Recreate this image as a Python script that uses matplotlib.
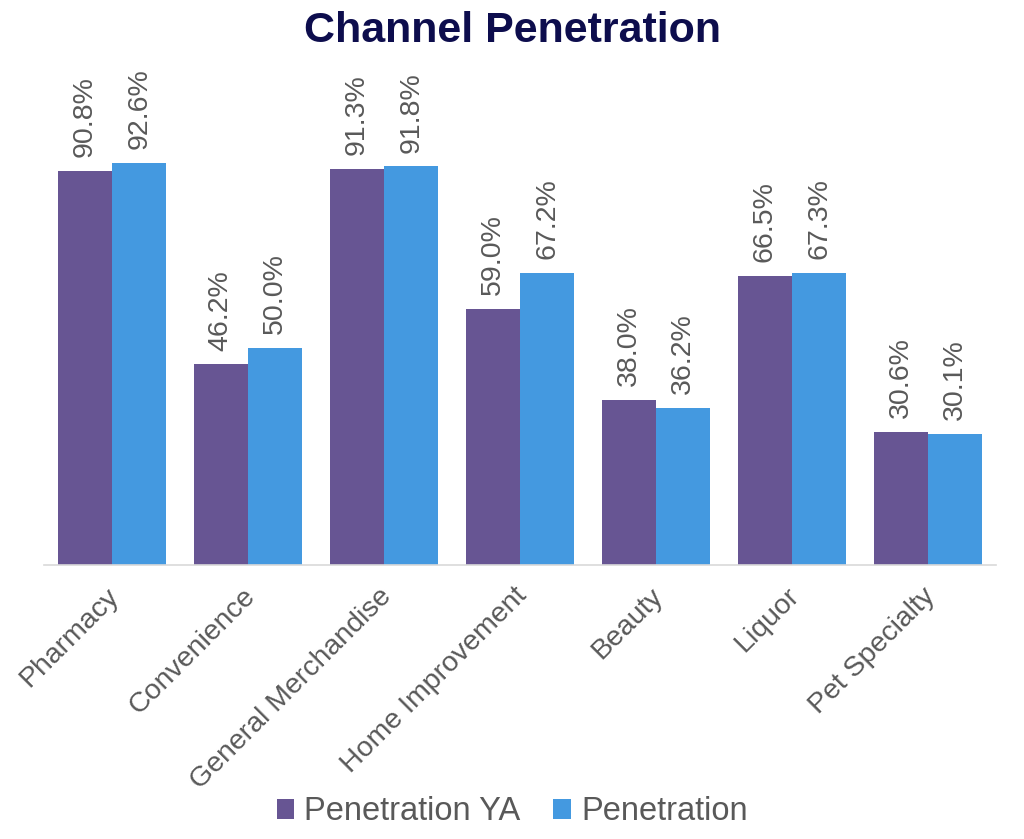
import matplotlib
matplotlib.use("Agg")
import matplotlib.pyplot as plt
import matplotlib.transforms as mtrans
import numpy as np

categories = ["Pharmacy", "Convenience", "General Merchandise", "Home Improvement",
              "Beauty", "Liquor", "Pet Specialty"]
penetration_ya = [90.8, 46.2, 91.3, 59.0, 38.0, 66.5, 30.6]
penetration = [92.6, 50.0, 91.8, 67.2, 36.2, 67.3, 30.1]
series_names = ["Penetration YA", "Penetration"]

plt.rcParams['font.family'] = ['Liberation Sans', 'DejaVu Sans']

W, H = 1024, 839
fig = plt.figure(figsize=(W / 100, H / 100), dpi=100)
ax = fig.add_axes([44 / W, 1 - 565 / H, 952 / W, (565 - 44) / H])

x = np.arange(len(categories))
bw = 0.4
c1, c2 = "#675593", "#4499E0"
b1 = ax.bar(x - bw / 2, penetration_ya, bw, color=c1, label=series_names[0])
b2 = ax.bar(x + bw / 2, penetration, bw, color=c2, label=series_names[1])

for bars in (b1, b2):
    for r in bars:
        v = r.get_height()
        ax.annotate(f"{v:.1f}%", (r.get_x() + r.get_width() / 2, v),
                    xytext=(0, 10), textcoords="offset points",
                    rotation=90, ha="center", va="bottom",
                    fontsize=20.5, color="#595959", annotation_clip=False)

ax.set_xlim(-0.5, len(categories) - 0.5)
ax.set_ylim(0, 120)
ax.set_yticks([])
for s in ("top", "right", "left"):
    ax.spines[s].set_visible(False)
ax.spines["bottom"].set_color("#D9D9D9")
ax.spines["bottom"].set_linewidth(1.2)
ax.set_xticks(x)
ax.set_xticklabels(categories, rotation=45, ha="right", rotation_mode="anchor",
                   fontsize=20.5, color="#595959")
ax.tick_params(axis="x", length=0, pad=10)
off = mtrans.ScaledTranslation(-6 / 100, -4 / 100, fig.dpi_scale_trans)
for lbl in ax.get_xticklabels():
    lbl.set_transform(lbl.get_transform() + off)

fig.text(0.5, 1 - 31 / H, "Channel Penetration", ha="center", va="center",
         fontsize=31, fontweight="bold", color="#0D0D4D")

fig.legend(handles=[b1, b2], labels=series_names, loc="center",
           bbox_to_anchor=(0.5, 1 - 812 / H), ncol=2, frameon=False,
           fontsize=23.5, labelcolor="#595959", handlelength=0.55, handleheight=0.55,
           handletextpad=0.3, columnspacing=1.0)

fig.savefig("out.png", dpi=100)
